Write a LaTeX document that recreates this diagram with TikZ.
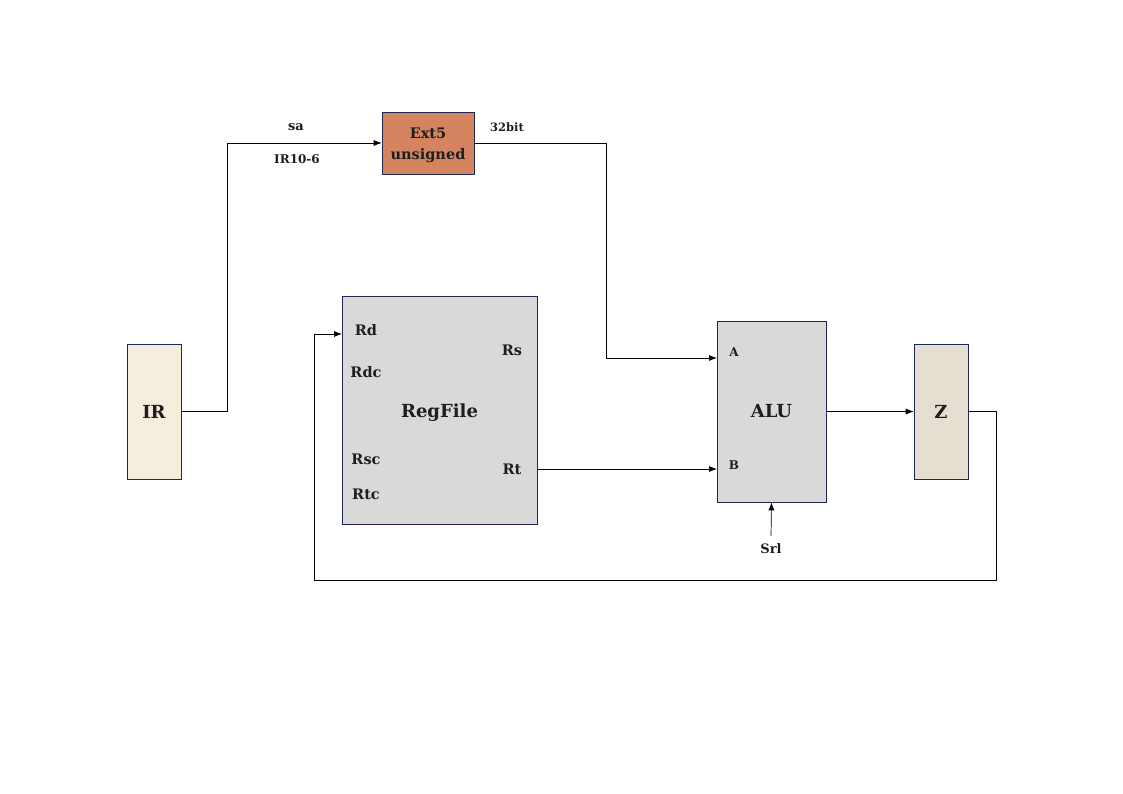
\documentclass[tikz,border=0pt]{standalone}
\usepackage{fontspec}
\setmainfont{DejaVu Serif}
\usetikzlibrary{positioning}
\usetikzlibrary{arrows.meta}
\definecolor{boxline}{HTML}{1F2757}
\definecolor{inkcol}{HTML}{1E1E1E}
\definecolor{irfill}{HTML}{F5EEDC}
\definecolor{extfill}{HTML}{D4845E}
\definecolor{regfill}{HTML}{D9D9D9}
\definecolor{zfill}{HTML}{E6DED0}
\tikzset{
  unit/.style={draw=boxline,line width=0.7pt,inner sep=0pt,text=inkcol},
  wire/.style={line width=0.7pt,-{Latex[length=8pt,width=6pt]}},
  tag/.style={font=\bfseries\fontsize{12}{12}\selectfont,inner sep=0pt,text=inkcol},
  port/.style={tag,font=\bfseries\fontsize{14.5}{14.5}\selectfont}
}

\begin{document}
\begin{tikzpicture}[x=1pt,y=-1pt]
        \useasboundingbox (0,0) rectangle (1123,794);
        % units
        \node[unit,fill=irfill,minimum width=54pt,minimum height=135pt,font=\bfseries\fontsize{18}{18}\selectfont] (ir) at (154,411.5) {IR};
        \node[unit,fill=extfill,minimum width=92pt,minimum height=62pt] (ext) at (428,143) {};
        \node[tag,align=center,font=\bfseries\fontsize{14.5}{21}\selectfont] (extlbl) at (428,145) {Ext5\\unsigned};
        \node[unit,fill=regfill,minimum width=195pt,minimum height=228pt,text height=15pt,text depth=0pt,font=\bfseries\fontsize{18}{18}\selectfont] (reg) at (439.5,410) {RegFile};
        \node[unit,fill=regfill,minimum width=109pt,minimum height=181pt,font=\bfseries\fontsize{18}{18}\selectfont] (alu) at (771.5,411.5) {ALU};
        \node[unit,fill=zfill,minimum width=54pt,minimum height=135pt,font=\bfseries\fontsize{18}{18}\selectfont] (z) at (941,411.5) {Z};

        % ports
        \node[port] (rd) at (366,330) {Rd};
        \node[port] (rdc) at (366,372) {Rdc};
        \node[port] (rsc) at (366,459) {Rsc};
        \node[port] (rtc) at (366,494) {Rtc};
        \node[port] (rs) at (512,350) {Rs};
        \node[port] (rt) at (512,469) {Rt};
        \node[tag] (pa) at (734,352) {A};
        \node[tag] (pb) at (734,465) {B};
        \node[tag,font=\bfseries\fontsize{13}{13}\selectfont] (srl) at (771,549) {Srl};

        % bus labels
        \node[tag,font=\bfseries\fontsize{13}{13}\selectfont] (sa) at (296,127) {sa};
        \node[tag] (irbits) at (297,159) {IR10{-}6};
        \node[tag,font=\bfseries\fontsize{11.5}{11.5}\selectfont] (width) at (507,127) {32bit};

        \coordinate (aluA) at (717,358);
        \coordinate (aluB) at (717,469);
        \coordinate (rtout) at (537,469);
        \coordinate (rdin) at (342,334);
        \coordinate (srlend) at (771,536);

        % connectors
        \draw[wire] (ir.east) -- ++(46,0) |- (ext.west);
        \draw[wire] (ext.east) -- (606,143) |- (aluA);
        \draw[wire] (rtout) -- (aluB);
        \draw[wire] (alu.east) -- (z.west);
        \draw[wire] (z.east) -- (996,411.5) |- (314,580) |- (rdin);
        \draw[wire] (srlend) -- (alu.south);
      \end{tikzpicture}
\end{document}
